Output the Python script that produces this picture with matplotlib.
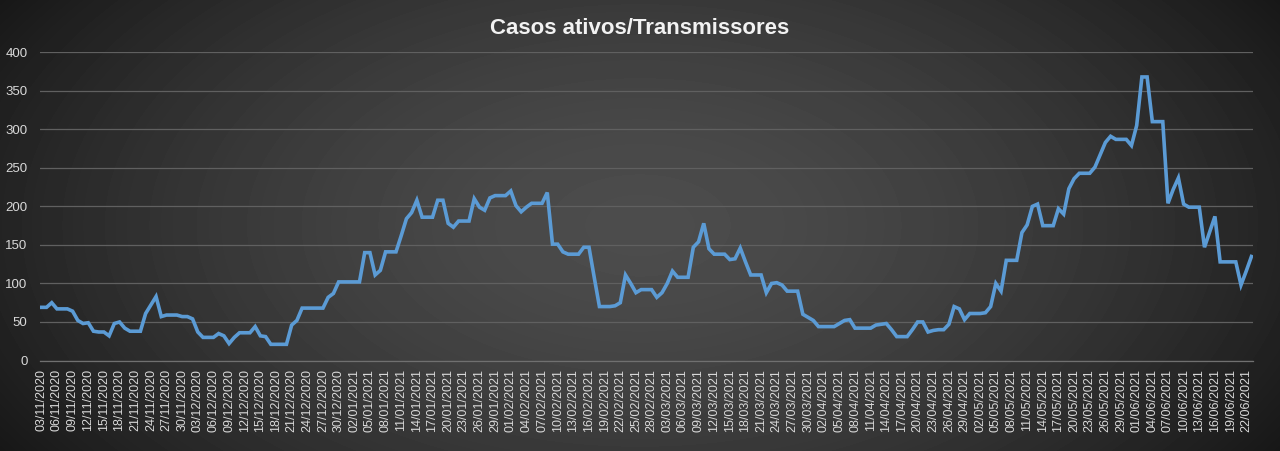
"""
Casos ativos/Transmissores - daily active cases line chart.
"""

import matplotlib

matplotlib.use("Agg")

import matplotlib.pyplot as plt
import numpy as np
import pandas as pd

####################################################################
# DATA
####################################################################

start_date = "2020-11-03"
label_step = 3

active_cases = [
    69, 69, 75, 67, 67, 67, 64, 52, 48, 49,
    38, 37, 37, 32, 48, 50, 42, 38, 38, 38,
    61, 72, 83, 57, 59, 59, 59, 57, 57, 54,
    37, 30, 30, 30, 35, 32, 22, 30, 36, 36,
    36, 44, 32, 31, 21, 21, 21, 21, 46, 52,
    68, 68, 68, 68, 68, 82, 87, 102, 102, 102,
    102, 102, 140, 140, 111, 117, 141, 141, 141, 162,
    184, 192, 208, 186, 186, 186, 208, 208, 178, 173,
    181, 181, 181, 210, 199, 195, 211, 214, 214, 214,
    220, 201, 193, 199, 204, 204, 204, 218, 151, 151,
    141, 138, 138, 138, 147, 147, 108, 70, 70, 70,
    71, 75, 111, 100, 88, 92, 92, 92, 82, 88,
    100, 116, 108, 108, 108, 147, 154, 178, 145, 138,
    138, 138, 131, 132, 146, 128, 111, 111, 111, 88,
    100, 101, 98, 90, 90, 90, 60, 56, 52, 44,
    44, 44, 44, 48, 52, 53, 42, 42, 42, 42,
    46, 47, 48, 40, 31, 31, 31, 40, 50, 50,
    37, 39, 40, 40, 47, 70, 67, 53, 61, 61,
    61, 62, 70, 100, 90, 130, 130, 130, 166, 176,
    200, 203, 175, 175, 175, 197, 190, 223, 236, 243,
    243, 243, 251, 267, 283, 291, 287, 287, 287, 279,
    305, 368, 368, 310, 310, 310, 204, 222, 237, 203,
    199, 199, 199, 147, 167, 187, 128, 128, 128, 128,
    98, 116, 135,
]

dates = pd.date_range(start_date, periods=len(active_cases), freq="D")
date_labels = [d.strftime("%d/%m/%Y") for d in dates]

####################################################################
# FIGURE
####################################################################

fig = plt.figure(figsize=(12.8, 4.51), dpi=100)

# radial dark background, lighter in the middle
bg_ax = fig.add_axes([0, 0, 1, 1], zorder=-1)
yy, xx = np.mgrid[-1:1:451j, -1:1:1280j]
dist = np.sqrt((xx / 1.0) ** 2 + (yy / 1.6) ** 2)
shade = 0.30 - 0.16 * np.clip(dist, 0, 1.2) ** 1.6
bg_ax.imshow(shade, cmap="gray", vmin=0, vmax=1, aspect="auto",
             extent=[0, 1, 0, 1])
bg_ax.axis("off")

ax = fig.add_axes([40 / 1280, 1 - 360.5 / 451, 1213 / 1280, 308.2 / 451])
ax.set_facecolor("none")

x = np.arange(len(active_cases))
ax.plot(x, active_cases, color="#5b9bd5", linewidth=2.6,
        solid_joinstyle="miter", zorder=3)

ax.set_xlim(-0.25, len(active_cases) - 1 + 0.3)
ax.set_ylim(0, 400)
ax.set_yticks(range(0, 401, 50))
ax.grid(axis="y", color="#606060", linewidth=0.9)
ax.set_axisbelow(True)

tick_pos = x[::label_step]
ax.set_xticks(tick_pos)
ax.set_xticklabels([date_labels[i] for i in tick_pos], rotation=90,
                   fontsize=9, color="#d9d9d9", family="Liberation Sans")
ax.tick_params(axis="x", length=0, pad=6)
ax.tick_params(axis="y", length=0, pad=9, labelsize=9.5,
               labelcolor="#d9d9d9")
for label in ax.get_yticklabels():
    label.set_family("Liberation Sans")

for side in ["top", "right", "left"]:
    ax.spines[side].set_visible(False)
ax.spines["bottom"].set_color("#707070")
ax.spines["bottom"].set_linewidth(0.9)

fig.text(0.5, 1 - 28 / 451, "Casos ativos/Transmissores", ha="center",
         va="center", fontsize=16, fontweight="bold", color="#f2f2f2",
         family="Liberation Sans")

fig.savefig("out.png", dpi=100)
plt.close(fig)
